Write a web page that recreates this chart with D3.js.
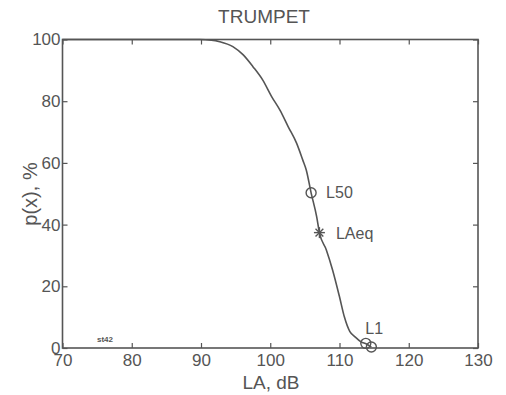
<!DOCTYPE html>
<html><head><meta charset="utf-8">
<script src="https://cdn.jsdelivr.net/npm/d3@7"></script>
<style>body{margin:0;background:#fff}svg{display:block;font-family:"Liberation Sans",Arial,sans-serif}</style>
</head><body><svg id="c" width="506" height="395"></svg>
<script>
const title = "TRUMPET";
const xLabel = "LA, dB";
const yLabel = "p(x), %";
const xTicks = [70, 80, 90, 100, 110, 120, 130];
const yTicks = [0, 20, 40, 60, 80, 100];
const curveLA = [70, 89.8, 91.5, 92.7, 94.6, 96.1, 97.5, 98.9, 100.2, 101.4, 102.6, 103.8, 104.7, 105.2, 105.9, 106.7, 107.1, 108.1, 109.0, 110.0, 110.7, 111.5, 112.2, 113.1, 113.9, 114.6];
const curveP  = [100, 100, 99.8, 99.3, 97.7, 95.0, 91.2, 86.9, 81.5, 77.1, 71.7, 66.4, 60.9, 57.7, 50.3, 42.6, 37.4, 31.8, 25.3, 16.6, 10.1, 5.3, 3.7, 2.0, 1.3, 0.3];
const circleLA = [105.9, 113.8, 114.6];
const circleP = [50.3, 1.5, 0.3];
const starLA = [107.1];
const starP = [37.4];
const annotText = ["L50", "LAeq", "L1"];
const annotLA = [105.9, 107.1, 113.8];
const annotP = [50.3, 37.4, 1.5];
const stamp = "st42";

const W = 506, H = 395;
const m = {left: 62.5, right: 28, top: 39.5, bottom: 47};
const col = "#555";
const svg = d3.select("#c");
const x = d3.scaleLinear().domain([70, 130]).range([m.left, W - m.right]);
const y = d3.scaleLinear().domain([0, 100]).range([H - m.bottom, m.top]);

function styleAxis(g){
  g.selectAll("path").attr("stroke", "none");
  g.selectAll("line").attr("stroke", col).attr("stroke-width", 1.2);
  g.selectAll("text").attr("fill", col).style("font-size", "17px").style("font-family", '"Liberation Sans",Arial,sans-serif');
}
svg.append("g").attr("transform", `translate(0,${y(0)})`)
  .call(d3.axisBottom(x).tickValues(xTicks).tickSize(-5).tickPadding(6)).call(styleAxis);
svg.append("g").attr("transform", `translate(0,${y(100)})`)
  .call(d3.axisTop(x).tickValues(xTicks).tickSize(-5).tickFormat("")).call(styleAxis);
svg.append("g").attr("transform", `translate(${x(70)},0)`)
  .call(d3.axisLeft(y).tickValues(yTicks).tickSize(-5).tickPadding(2)).call(styleAxis);
svg.append("g").attr("transform", `translate(${x(130)},0)`)
  .call(d3.axisRight(y).tickValues(yTicks).tickSize(-5).tickFormat("")).call(styleAxis);

svg.append("rect").attr("x", x(70)).attr("y", y(100)).attr("width", x(130) - x(70)).attr("height", y(0) - y(100))
  .attr("fill", "none").attr("stroke", col).attr("stroke-width", 1.6);

const pts = curveLA.map((v, i) => [v, curveP[i]]);
svg.append("path").datum(pts)
  .attr("d", d3.line().x(d => x(d[0])).y(d => y(d[1])).curve(d3.curveMonotoneX))
  .attr("fill", "none").attr("stroke", col).attr("stroke-width", 1.6);

circleLA.forEach((v, i) => {
  svg.append("circle").attr("cx", x(v)).attr("cy", y(circleP[i])).attr("r", 5)
    .attr("fill", "none").attr("stroke", col).attr("stroke-width", 1.4);
});
starLA.forEach((v, i) => {
  const cx = x(v), cy = y(starP[i]), r = 5.5;
  const g = svg.append("g").attr("stroke", col).attr("stroke-width", 1.4);
  [0, 45, 90, 135].forEach(a => {
    const t = a * Math.PI / 180;
    g.append("line").attr("x1", cx - r * Math.cos(t)).attr("y1", cy - r * Math.sin(t))
      .attr("x2", cx + r * Math.cos(t)).attr("y2", cy + r * Math.sin(t));
  });
});
const offs = [[15, 5.5], [16.5, 6], [-0.5, -9]];
annotText.forEach((t, i) => {
  svg.append("text").attr("x", x(annotLA[i]) + offs[i][0]).attr("y", y(annotP[i]) + offs[i][1])
    .attr("fill", col).style("font-size", "16px").text(t);
});

svg.append("text").attr("x", 264).attr("y", 23).attr("text-anchor", "middle").attr("fill", col)
  .style("font-size", "19px").text(title);
svg.append("text").attr("x", 271).attr("y", 389).attr("text-anchor", "middle").attr("fill", col)
  .style("font-size", "19px").text(xLabel);
svg.append("text").attr("transform", "translate(37,194) rotate(-90)").attr("text-anchor", "middle").attr("fill", col)
  .style("font-size", "20px").text(yLabel);
svg.append("text").attr("x", 97).attr("y", 342).attr("fill", col)
  .style("font-size", "8px").style("font-weight", "bold").text(stamp);
</script></body></html>
